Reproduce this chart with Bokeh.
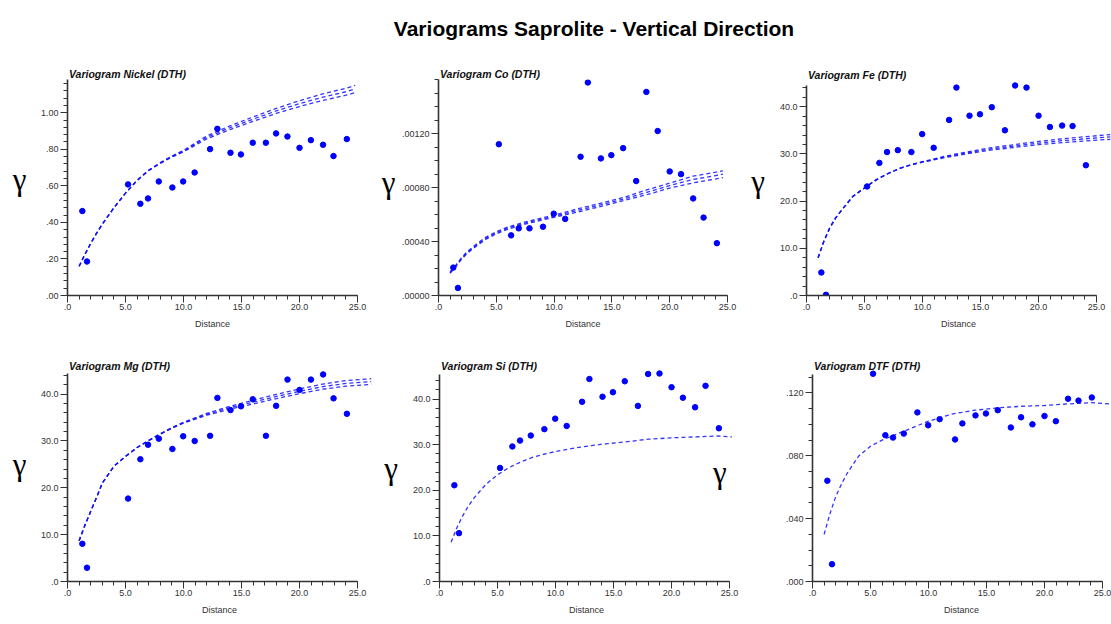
from bokeh.plotting import figure
from bokeh.layouts import column, row
from bokeh.models import Range1d, FixedTicker, Label
from bokeh.embed import file_html
from bokeh.resources import INLINE

# ---------------- data ----------------
TITLE = "Variograms Saprolite - Vertical Direction"
X_LABEL = "Distance"
GAMMA = "γ"

lags = [1.28, 1.68, 5.22, 6.28, 6.94, 7.87, 9.04, 9.97, 10.96, 12.29, 12.92,
        14.05, 14.95, 15.97, 17.1, 17.98, 18.96, 20.0, 20.98, 22.03, 22.93, 24.08]

nickel = [0.462, 0.186, 0.608, 0.502, 0.531, 0.624, 0.591, 0.624, 0.673, 0.801, 0.912,
          0.781, 0.772, 0.836, 0.836, 0.887, 0.870, 0.808, 0.850, 0.825, 0.763, 0.856]
cobalt = [0.000207, 0.000056, 0.001122, 0.000446, 0.000498, 0.000498, 0.000510, 0.000607,
          0.000568, 0.001029, 0.001580, 0.001017, 0.001041, 0.001093, 0.000849, 0.001510,
          0.001220, 0.000920, 0.000900, 0.000720, 0.000578, 0.000388]
iron = [4.88, 0.15, 23.1, 28.1, 30.4, 30.8, 30.4, 34.2, 31.3, 37.2, 44.05,
        38.1, 38.4, 39.9, 35.0, 44.5, 44.05, 38.1, 35.7, 36.0, 35.9, 27.6]
magnesium = [8.05, 2.94, 17.7, 26.1, 29.2, 30.5, 28.3, 31.0, 30.0, 31.1, 39.2,
             36.6, 37.4, 38.9, 31.1, 37.5, 43.1, 40.9, 43.1, 44.2, 39.1, 35.8]
silicon = [21.1, 10.6, 24.9, 29.6, 30.9, 32.0, 33.4, 35.7, 34.1, 39.4, 44.4,
           40.5, 41.5, 43.9, 38.5, 45.5, 45.6, 42.6, 40.3, 38.2, 42.9, 33.6]
dtf = [0.0641, 0.0110, 0.1322, 0.0931, 0.0916, 0.0941, 0.1076, 0.0994, 0.1033, 0.0904, 0.1006,
       0.1057, 0.1069, 0.1090, 0.0980, 0.1045, 0.1000, 0.1053, 0.1020, 0.1163, 0.1151, 0.1171]

# model curves
model_x = [1.0, 1.5, 2.0, 2.5, 3.0, 4.0, 5.0, 6.0, 7.0, 8.0, 9.0, 10.0,
           12.0, 14.0, 16.0, 18.0, 20.0, 22.0, 24.0]

nickel_model_x = model_x + [24.8]
nickel_model_low = [0.16, 0.225, 0.285, 0.34, 0.39, 0.48, 0.56, 0.629, 0.683, 0.723, 0.757, 0.786,
                    0.857, 0.908, 0.953, 0.996, 1.034, 1.067, 1.096, 1.11]
nickel_model_mid = [0.16, 0.225, 0.285, 0.34, 0.39, 0.48, 0.56, 0.63, 0.685, 0.725, 0.76, 0.79,
                    0.865, 0.918, 0.965, 1.01, 1.05, 1.085, 1.115, 1.13]
nickel_model_high = [0.16, 0.225, 0.285, 0.34, 0.39, 0.48, 0.56, 0.631, 0.687, 0.727, 0.763, 0.794,
                     0.873, 0.928, 0.977, 1.024, 1.066, 1.103, 1.134, 1.15]

cobalt_model_x = model_x + [24.6]
cobalt_model_low = [0.000165, 0.000215, 0.00027, 0.000313, 0.000348, 0.000412, 0.000457, 0.000492,
                    0.000517, 0.00054, 0.00056, 0.00058, 0.000618, 0.00066, 0.000703, 0.000747,
                    0.000797, 0.000835, 0.000865, 0.000875]
cobalt_model_mid = [0.00017, 0.00022, 0.000275, 0.00032, 0.000355, 0.00042, 0.000465, 0.0005,
                    0.000525, 0.000548, 0.000568, 0.000588, 0.00063, 0.000672, 0.000715, 0.000765,
                    0.000815, 0.00086, 0.00089, 0.0009]
cobalt_model_high = [0.000175, 0.000225, 0.00028, 0.000327, 0.000362, 0.000428, 0.000473, 0.000508,
                     0.000533, 0.000556, 0.000576, 0.000596, 0.000642, 0.000684, 0.000727, 0.000783,
                     0.000833, 0.000885, 0.000915, 0.000925]

iron_model_x = model_x + [26.2]
iron_model_low = [8.0, 11.5, 14.3, 16.4, 18.0, 21.0, 22.8, 24.5, 25.8, 26.9, 27.7, 28.25,
                  29.25, 30.1, 30.85, 31.4, 31.95, 32.4, 32.75, 33.1]
iron_model_mid = [8.0, 11.5, 14.3, 16.4, 18.0, 21.0, 22.8, 24.5, 25.8, 26.9, 27.7, 28.3,
                  29.4, 30.3, 31.1, 31.7, 32.3, 32.8, 33.2, 33.6]
iron_model_high = [8.0, 11.5, 14.3, 16.4, 18.0, 21.0, 22.8, 24.5, 25.8, 26.9, 27.7, 28.35,
                   29.55, 30.5, 31.35, 32.0, 32.65, 33.2, 33.65, 34.1]

magnesium_model_x = model_x + [26.2]
magnesium_model_low = [8.7, 12.0, 15.0, 17.9, 21.0, 24.6, 26.7, 28.6, 30.05, 31.45, 32.72, 33.8,
                       35.5, 36.8, 37.9, 39.05, 40.1, 41.05, 41.7, 42.1]
magnesium_model_mid = [8.7, 12.0, 15.0, 17.9, 21.0, 24.6, 26.7, 28.6, 30.1, 31.5, 32.8, 33.9,
                       35.7, 37.1, 38.3, 39.5, 40.6, 41.6, 42.3, 42.7]
magnesium_model_high = [8.7, 12.0, 15.0, 17.9, 21.0, 24.6, 26.7, 28.6, 30.15, 31.55, 32.88, 34.0,
                        35.9, 37.4, 38.7, 39.95, 41.1, 42.15, 42.9, 43.3]

silicon_model_x = model_x + [25.2]
silicon_model = [8.6, 11.8, 14.4, 16.6, 18.4, 21.3, 23.4, 25.0, 26.2, 27.2, 27.9, 28.5,
                 29.4, 30.1, 30.6, 31.2, 31.5, 31.7, 31.9, 31.7]

dtf_model_x = model_x + [25.7]
dtf_model = [0.030, 0.043, 0.054, 0.062, 0.069, 0.080, 0.086, 0.090, 0.093, 0.096, 0.099, 0.102,
             0.1065, 0.109, 0.1105, 0.1115, 0.112, 0.113, 0.1138, 0.113]

# axis ticks
x_ticks = [0, 5, 10, 15, 20, 25]
x_tick_labels = [".0", "5.0", "10.0", "15.0", "20.0", "25.0"]
nickel_ticks = [0, 0.2, 0.4, 0.6, 0.8, 1.0]
nickel_tick_labels = [".00", ".20", ".40", ".60", ".80", "1.00"]
cobalt_ticks = [0, 0.0004, 0.0008, 0.0012]
cobalt_tick_labels = [".00000", ".00040", ".00080", ".00120"]
pct_ticks = [0, 10, 20, 30, 40]
pct_tick_labels = [".0", "10.0", "20.0", "30.0", "40.0"]
dtf_ticks = [0, 0.04, 0.08, 0.12]
dtf_tick_labels = [".000", ".040", ".080", ".120"]

# ---------------- styling ----------------
AXIS_COLOR = "#333333"
DOT_COLOR = "#0000ff"
LINE_COLOR = "#1010ff"
SANS = "Liberation Sans"
SERIF = "Liberation Serif"
GAMMA_SIZE = "31px"


def minor(step, count):
    return [round(i * step, 6) for i in range(count + 1)]


def gamma_text(x, y):
    return Label(x=x, y=y, text=GAMMA, text_font=SERIF, text_font_size=GAMMA_SIZE,
                 text_align="center", text_baseline="middle", text_color="black")


def gamma_strip(width, height, x, y):
    """narrow figure that only carries the y-axis symbol to the left of a panel"""
    g = figure(width=width, height=height, output_backend="svg", toolbar_location=None,
               x_range=Range1d(0, width), y_range=Range1d(0, height),
               x_axis_location=None, y_axis_location=None, min_border=0)
    g.outline_line_color = None
    g.grid.visible = False
    g.add_layout(gamma_text(x, y))
    return g


def panel(title, points, mx, models, yticks, ylabels, yminor, y_end, y_axis_top, x_end,
          width, height, borders, title_shift):
    left, right, top, bottom = borders
    p = figure(width=width, height=height, output_backend="svg", toolbar_location=None,
               x_range=Range1d(0, x_end), y_range=Range1d(0, y_end),
               min_border_left=left, min_border_right=right,
               min_border_top=top, min_border_bottom=bottom)
    p.outline_line_color = None
    p.grid.visible = False
    p.background_fill_color = "white"

    p.title.text = title
    p.title.align = "left"
    p.title.offset = 1.5
    try:
        p.title.standoff = -title_shift
    except Exception:
        p.title.standoff = 0
    p.title.text_font = SANS
    p.title.text_font_style = "bold italic"
    p.title.text_font_size = "10.5px"
    p.title.text_color = "#111111"

    for ax in (p.xaxis[0], p.yaxis[0]):
        ax.axis_line_color = AXIS_COLOR
        ax.axis_line_width = 1.6
        ax.major_tick_line_color = AXIS_COLOR
        ax.major_tick_out = 7
        ax.major_tick_in = 0
        ax.minor_tick_line_color = AXIS_COLOR
        ax.minor_tick_out = 4
        ax.minor_tick_in = 0
        ax.major_label_text_font = SANS
        ax.major_label_text_font_size = "9px"
        ax.major_label_text_color = "#333333"

    xa = p.xaxis[0]
    xa.bounds = (0, 25)
    xa.ticker = FixedTicker(ticks=x_ticks, minor_ticks=minor(1, 25))
    xa.major_label_overrides = {t: l for t, l in zip(x_ticks, x_tick_labels)}
    xa.major_label_standoff = 1
    xa.axis_label = X_LABEL
    xa.axis_label_text_font = SANS
    xa.axis_label_text_font_size = "9px"
    xa.axis_label_text_font_style = "normal"
    xa.axis_label_text_color = "#333333"
    xa.axis_label_standoff = 6

    ya = p.yaxis[0]
    ya.bounds = (0, y_axis_top)
    ya.ticker = FixedTicker(ticks=yticks, minor_ticks=yminor)
    ya.major_label_overrides = {t: l for t, l in zip(yticks, ylabels)}
    ya.major_label_standoff = 2

    for m in models:
        p.line(mx, m, line_color=LINE_COLOR, line_width=1.3, line_dash="4 3", line_alpha=0.85)
    p.scatter(lags, points, size=5.5, fill_color=DOT_COLOR, line_color=DOT_COLOR)
    return p


f1 = panel("Variogram Nickel  (DTH)", nickel, nickel_model_x,
           [nickel_model_low, nickel_model_mid, nickel_model_high],
           nickel_ticks, nickel_tick_labels, minor(0.04, 29), 1.182, 1.18, 25,
           345, 300, (37, 18, 39, 45), 0)
f2 = panel("Variogram Co  (DTH)", cobalt, cobalt_model_x,
           [cobalt_model_low, cobalt_model_mid, cobalt_model_high],
           cobalt_ticks, cobalt_tick_labels, minor(0.0001, 16), 0.001602, 0.0016, 25,
           347, 300, (39, 18, 39, 42), 0)
f3 = panel("Variogram Fe  (DTH)", iron, iron_model_x,
           [iron_model_low, iron_model_mid, iron_model_high],
           pct_ticks, pct_tick_labels, minor(2, 22), 45.77, 44.5, 26.2,
           341, 300, (36, 1, 37, 41), 3)
f4 = panel("Variogram Mg  (DTH)", magnesium, magnesium_model_x,
           [magnesium_model_low, magnesium_model_mid, magnesium_model_high],
           pct_ticks, pct_tick_labels, minor(2, 22), 45.26, 44.3, 26.2,
           345, 284, (37, 4, 20, 43), 4)
f5 = panel("Variogram Si  (DTH)", silicon, silicon_model_x, [silicon_model],
           pct_ticks, pct_tick_labels, minor(2, 22), 46.48, 45.4, 25.34,
           343, 284, (37, 12, 25, 39), 4)
f6 = panel("Variogram DTF  (DTH)", dtf, dtf_model_x, [dtf_model],
           dtf_ticks, dtf_tick_labels, minor(0.01, 13), 0.1349, 0.1315, 25.69,
           366, 284, (67, 1, 29, 35), 4)

# second gamma that sits inside the Si panel in the reference
f5.add_layout(gamma_text(24.16, 24.0))

g1 = gamma_strip(30, 300, 19.0, 161.5)
g2 = gamma_strip(23, 300, 13.0, 156.5)
g3 = gamma_strip(25, 300, 12.5, 158.0)
g4 = gamma_strip(30, 284, 19.0, 157.0)
g5 = gamma_strip(27, 284, 15.5, 151.0)

# title strip
t = figure(width=1111, height=40, output_backend="svg", toolbar_location=None,
           x_range=Range1d(0, 1111), y_range=Range1d(0, 40),
           x_axis_location=None, y_axis_location=None, min_border=0)
t.outline_line_color = None
t.grid.visible = False
t.add_layout(Label(x=593.5, y=11.7, text=TITLE, text_font=SANS, text_font_size="21px",
                   text_font_style="bold", text_align="center", text_baseline="alphabetic",
                   text_color="black"))

layout = column(t, row(g1, f1, g2, f2, g3, f3), row(g4, f4, g5, f5, f6))
open("out.html", "w").write(file_html(layout, INLINE))
